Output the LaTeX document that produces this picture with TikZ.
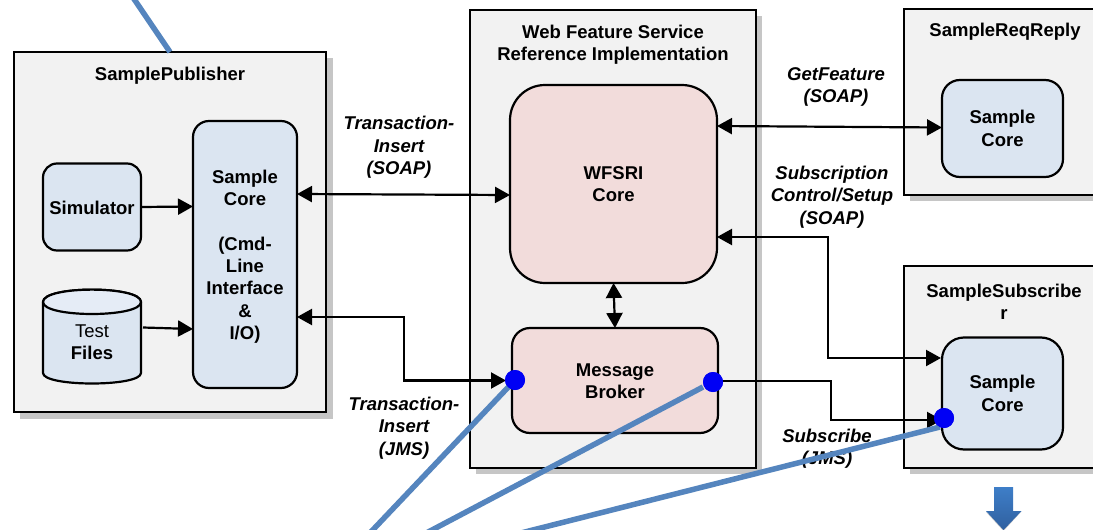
\documentclass[tikz,border=0pt]{standalone}
\usepackage{fontspec}
\setmainfont{Liberation Sans}
\usetikzlibrary{arrows.meta,calc}
\definecolor{panelfill}{HTML}{F2F2F2}
\definecolor{corefill}{HTML}{DBE5F1}
\definecolor{coretop}{HTML}{E5ECF6}
\definecolor{pinkfill}{HTML}{F2DCDB}
\definecolor{shadowgray}{HTML}{C6C6C6}
\definecolor{leader}{HTML}{5585BE}
\definecolor{dot}{HTML}{0000F5}
\definecolor{blocktop}{HTML}{3E7EC8}
\definecolor{blockbot}{HTML}{30609F}
\tikzset{
  x=1pt,y=-1pt,
  every node/.style={outer sep=0pt,inner sep=0pt,align=center,font=\fontsize{18.5}{22.3}\selectfont\bfseries},
  panel/.style={draw=black,line width=2.2pt,fill=panelfill,rectangle},
  core/.style={draw=black,line width=2.2pt,fill=corefill,rectangle},
  pink/.style={draw=black,line width=2.2pt,fill=pinkfill,rectangle},
  flowlabel/.style={font=\fontsize{18.5}{22.3}\selectfont\bfseries\itshape},
  link/.style={draw=black,line width=2.2pt},
  onehead/.style={link,-{Triangle[length=15pt,width=16pt]}},
  twohead/.style={link,{Triangle[length=15pt,width=16pt]}-{Triangle[length=15pt,width=16pt]}},
  leaderline/.style={draw=leader,line width=5.5pt},
  bluedot/.style={circle,fill=dot,minimum size=20pt},
}
\begin{document}
\begin{tikzpicture}
\useasboundingbox (0,0) rectangle (1093,530);
\clip (0,0) rectangle (1093,530);
% panel shadows
\fill[shadowgray] (20,58) rectangle (333,418.5);
\fill[shadowgray] (476,16) rectangle (762,474);
\fill[shadowgray] (910,15) rectangle (1120,201);
\fill[shadowgray] (910,272) rectangle (1120,474);
% panels
\node[panel,minimum width=312pt,minimum height=360pt] (pub) at (170,232) {};
\node[panel,minimum width=286pt,minimum height=458pt] (wfs) at (613,239) {};
\node[panel,minimum width=216pt,minimum height=186pt] (rr) at (1012,102) {};
\node[panel,minimum width=216pt,minimum height=202pt] (sub) at (1012,367) {};
% panel titles
\node (pubt) at (170,76) {SamplePublisher};
\node (wfst) at (613,45) {Web Feature Service\\Reference Implementation};
\node (rrt) at (1005,32) {SampleReqReply};
\node (subt) at (1004,301.5) {SampleSubscribe\\r};
% inner blocks
\node[core,rounded corners=16pt,minimum width=104pt,minimum height=267pt] (pcore) at (245,254.5) {};
\node (pcoret) at (245,256.5) {Sample\\Core\\[22.3pt](Cmd-\\Line\\Interface\\\&\\I/O)};
\node[core,rounded corners=14pt,minimum width=98pt,minimum height=87pt] (sim) at (92,207) {};
\node (simt) at (92,208) {Simulator};
% cylinder
\node[minimum width=98pt,minimum height=94pt] (files) at (92,337) {};
\filldraw[fill=corefill,draw=black,line width=2.2pt] (43,302) -- (43,373) .. controls (43,387) and (141,387) .. (141,373) -- (141,302) .. controls (141,285.5) and (43,285.5) .. (43,302) -- cycle;
\filldraw[fill=coretop,draw=black,line width=2.2pt] (43,302) .. controls (43,285.5) and (141,285.5) .. (141,302) .. controls (141,318) and (43,318) .. (43,302) -- cycle;
\node (filest) at (92,342) {\fontseries{m}\selectfont Test\\\fontseries{b}\selectfont Files};
\node[pink,rounded corners=35pt,minimum width=207pt,minimum height=198pt] (wcore) at (613.5,184) {WFSRI\\Core};
\node[pink,rounded corners=18pt,minimum width=206pt,minimum height=105pt] (mb) at (615,380.5) {};
\node (mbt) at (615,381.5) {Message\\Broker};
\node[core,rounded corners=18pt,minimum width=121pt,minimum height=97pt] (rcore) at (1002.5,128.5) {Sample\\Core};
\node[core,rounded corners=22pt,minimum width=121pt,minimum height=112pt] (score) at (1002.5,393.5) {Sample\\Core};
% connector labels
\node[flowlabel] (l1) at (399,147.5) {Transaction-\\Insert\\(SOAP)};
\node[flowlabel] (l2) at (836,87) {GetFeature\\(SOAP)};
\node[flowlabel] (l3) at (832,197) {Subscription\\Control/Setup\\(SOAP)};
\node[flowlabel] (l4) at (404,428) {Transaction-\\Insert\\(JMS)};
\node[flowlabel] (l5) at (827,449) {Subscribe\\(JMS)};
% connectors
\draw[onehead] (sim.east) -- ($(pcore.west)+(0,-48)$);
\draw[onehead] ($(files.east)+(2,-9.5)$) -- ($(pcore.west)+(0,74.5)$);
\draw[twohead] ($(pcore.east)+(0,-60.5)$) -- ($(wcore.west)+(0,11)$);
\draw[twohead] ($(pcore.east)+(0,62.5)$) -- ++(107,0) |- ($(mb.west)+(-6,0)$);
\draw[twohead] (wcore.south) -- (mb.north);
\draw[twohead] ($(wcore.east)+(0,-58)$) -- ($(rcore.west)+(0,-1)$);
\draw[twohead] ($(wcore.east)+(0,53)$) -- ++(111,0) |- ($(score.west)+(-1,-35.5)$);
\draw[onehead] ($(mb.east)+(0,0.5)$) -- ++(113,0) |- ($(score.west)+(0,26.5)$);
% leader lines
\coordinate (topend) at (132,-4);
\coordinate (bend1) at (368,535);
\coordinate (bend2) at (422.5,535);
\coordinate (bend3) at (513,535);
\node[bluedot] (d1) at (515,380) {};
\node[bluedot] (d2) at (713,382) {};
\node[bluedot] (d3) at (944,418) {};
\draw[leaderline] (pub.north) -- (topend);
\draw[leaderline] (d1.center) -- (bend1);
\draw[leaderline] ($(d2.center)+(-10,5)$) -- (bend2);
\draw[leaderline] ($(d3.center)+(-4,9)$) -- (bend3);
\node[bluedot] at (d1) {};
\node[bluedot] at (d2) {};
\node[bluedot] at (d3) {};
% block arrow
\fill[shadowgray] (1003.5,526) -- (1021,512) -- (1003.5,531) -- (986,512) -- cycle;
\shade[top color=blocktop,bottom color=blockbot]
  (994,487) -- (1013,487) -- (1013,511) -- (1021.5,511) -- (1003.5,530) -- (986,511) -- (994,511) -- cycle;
\end{tikzpicture}
\end{document}
